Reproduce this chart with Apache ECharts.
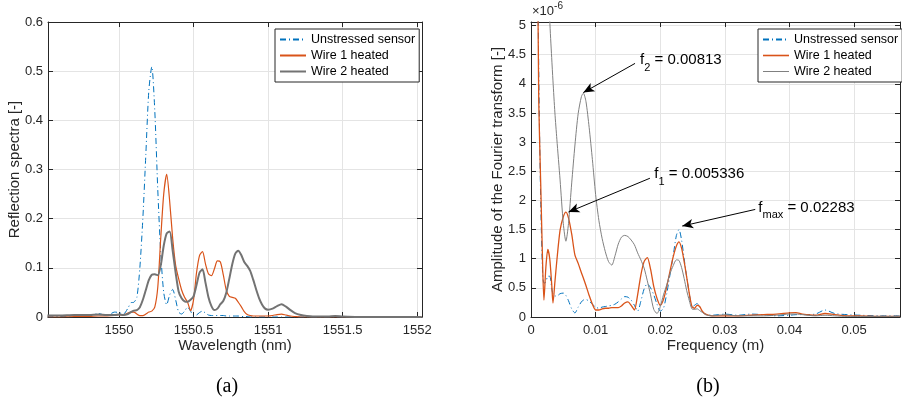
<!DOCTYPE html>
<html>
<head>
<meta charset="utf-8">
<script src="https://cdn.jsdelivr.net/npm/echarts@6/dist/echarts.min.js"></script>
<style>html,body{margin:0;padding:0;background:#fff}#c{width:902px;height:402px}</style>
</head>
<body>
<div id="c"></div>
<script>
// ---------- (a) Reflection spectra ----------
const wavelength = [1549.52,1549.60,1549.70,1549.80,1549.86,1549.92,1549.97,1550.00,1550.03,1550.06,
  1550.08,1550.10,1550.12,1550.14,1550.16,1550.18,1550.20,1550.22,1550.24,1550.26,
  1550.28,1550.30,1550.32,1550.34,1550.36,1550.38,1550.40,1550.42,1550.44,1550.46,
  1550.48,1550.50,1550.52,1550.54,1550.56,1550.58,1550.60,1550.62,1550.64,1550.66,
  1550.68,1550.70,1550.72,1550.74,1550.76,1550.78,1550.80,1550.82,1550.84,1550.86,
  1550.88,1550.90,1550.92,1550.94,1550.96,1550.98,1551.00,1551.03,1551.06,1551.09,
  1551.12,1551.15,1551.18,1551.22,1551.26,1551.30,1551.40,1551.45,1551.50,1551.60,
  1551.80,1552.03];
const reflUnstressed = [0.000,0.001,0.002,0.002,0.007,0.003,0.010,0.009,0.006,0.018,
  0.029,0.030,0.040,0.100,0.200,0.330,0.460,0.509,0.420,0.260,
  0.130,0.050,0.025,0.045,0.056,0.035,0.010,0.006,0.012,0.020,
  0.012,0.002,0.004,0.009,0.012,0.008,0.004,0.003,0.003,0.003,
  0.003,0.003,0.002,0.002,0.002,0.002,0.002,0.001,0.001,0.001,
  0,0,0,0,0,0,0,0,0,0,
  0,0,0,0,0,0,0,0,0,0,
  0,0];
const reflWire1 = [0,0,0.001,0.001,0.002,0.002,0.003,0.005,0.004,0.008,
  0.010,0.010,0.006,0.003,0.003,0.006,0.010,0.012,0.020,0.060,
  0.160,0.250,0.290,0.235,0.160,0.105,0.078,0.055,0.040,0.030,
  0.013,0.035,0.090,0.125,0.133,0.108,0.088,0.084,0.098,0.114,
  0.112,0.085,0.054,0.042,0.040,0.038,0.030,0.021,0.011,0.005,
  0.003,0.002,0.002,0.002,0.002,0.002,0.002,0.003,0.005,0.006,
  0.004,0.002,0.001,0,0,0,0,0,0,0,
  0,0];
const reflWire2 = [0.003,0.003,0.004,0.004,0.005,0.004,0.004,0.005,0.004,0.006,
  0.010,0.013,0.014,0.020,0.035,0.055,0.075,0.086,0.087,0.085,
  0.105,0.145,0.170,0.174,0.135,0.090,0.052,0.038,0.032,0.031,
  0.035,0.042,0.065,0.090,0.097,0.070,0.040,0.022,0.014,0.017,
  0.026,0.033,0.050,0.078,0.108,0.129,0.135,0.126,0.112,0.104,
  0.094,0.076,0.056,0.038,0.025,0.017,0.015,0.017,0.022,0.026,
  0.021,0.014,0.008,0.004,0.002,0.001,0.001,0.002,0.001,0,
  0,0];
const wavelengthTicks = [1550, 1550.5, 1551, 1551.5, 1552];
const reflTicks = [0, 0.1, 0.2, 0.3, 0.4, 0.5, 0.6];

// ---------- (b) Fourier amplitude (units of 1e-6) ----------
const frequency = [0.0009,0.0012,0.0015,0.0018,0.0020,0.0023,0.0026,0.0029,0.0032,0.0034,
  0.0037,0.0040,0.0045,0.0050,0.0054,0.0058,0.0063,0.0068,0.0073,0.0078,
  0.0081,0.0085,0.0090,0.0095,0.0100,0.0105,0.0110,0.0115,0.0120,0.0125,
  0.0130,0.0135,0.0140,0.0145,0.0150,0.0155,0.0160,0.0165,0.0170,0.0175,
  0.0180,0.0185,0.0190,0.0195,0.0200,0.0205,0.0210,0.0215,0.0220,0.0225,
  0.0229,0.0233,0.0237,0.0241,0.0245,0.0249,0.0253,0.0257,0.0261,0.0265,
  0.0270,0.0280,0.0290,0.0300,0.0320,0.0340,0.0360,0.0380,0.0400,0.0410,
  0.0420,0.0440,0.0455,0.0470,0.0490,0.0510,0.0540,0.0571];
const ampUnstressed = [8,4.2,2.0,0.75,0.58,0.6,0.7,0.7,0.5,0.39,
  0.36,0.36,0.40,0.41,0.37,0.28,0.14,0.07,0.17,0.26,
  0.29,0.30,0.27,0.22,0.17,0.15,0.17,0.18,0.19,0.20,
  0.22,0.26,0.31,0.35,0.34,0.29,0.20,0.10,0.27,0.48,
  0.57,0.50,0.38,0.22,0.10,0.15,0.40,0.72,1.05,1.40,
  1.50,1.32,1.00,0.68,0.40,0.17,0.20,0.23,0.18,0.10,
  0.05,0.03,0.04,0.05,0.03,0.05,0.04,0.02,0.03,0.04,
  0.04,0.05,0.12,0.06,0.04,0.03,0.02,0.02];
const ampWire1 = [8,3.7,2.3,0.9,0.29,0.85,1.16,1.0,0.57,0.24,
  0.6,0.97,1.49,1.72,1.80,1.70,1.42,1.06,0.92,0.76,
  0.67,0.54,0.37,0.22,0.12,0.12,0.14,0.15,0.15,0.16,
  0.16,0.16,0.19,0.24,0.26,0.20,0.12,0.38,0.72,0.95,
  1.02,0.82,0.52,0.32,0.20,0.30,0.52,0.78,1.03,1.22,
  1.29,1.18,0.95,0.68,0.40,0.18,0.15,0.20,0.18,0.10,
  0.05,0.02,0.02,0.02,0.02,0.03,0.04,0.05,0.07,0.075,
  0.05,0.03,0.06,0.04,0.02,0.02,0.01,0.01];
const ampWire2 = [40,30,22,16,13,9.5,6.4,5.1,4.45,4.05,
  3.5,3.05,2.35,1.6,1.3,1.6,2.3,2.95,3.49,3.78,
  3.84,3.7,3.25,2.7,2.1,1.66,1.35,1.12,0.95,0.89,
  1.05,1.25,1.37,1.40,1.38,1.32,1.24,1.10,0.98,0.84,
  0.62,0.38,0.13,0.06,0.18,0.38,0.55,0.74,0.88,0.98,
  0.97,0.85,0.66,0.45,0.28,0.14,0.13,0.14,0.11,0.08,
  0.04,0.02,0.03,0.04,0.02,0.02,0.02,0.03,0.05,0.05,
  0.04,0.02,0.03,0.02,0.01,0.01,0.01,0.01];
const frequencyTicks = [0, 0.01, 0.02, 0.03, 0.04, 0.05];
const ampTicks = [0, 0.5, 1, 1.5, 2, 2.5, 3, 3.5, 4, 4.5, 5];

const seriesNames = ['Unstressed sensor', 'Wire 1 heated', 'Wire 2 heated'];
const peakLabels = [
  { main: 'f', sub: '2', value: '0.00813' },
  { main: 'f', sub: '1', value: '0.005336' },
  { main: 'f', sub: 'max', value: '0.02283' }
];

// ---------- layout / style ----------
const FONT = '"Liberation Sans", Arial, Helvetica, sans-serif';
const AX = '#262626';
const GRIDC = '#e4e4e4';
const BLUE = '#0072BD', ORANGE = '#D95319', GRAY = '#737373', GRAY_B = '#808080';
const DASHDOT = [6, 3, 1, 3];
// annotation geometry in data units of panel (b): [tail, tip, textAnchor]
const peakArrows = [
  { tail: [0.0161, 4.35], tip: [0.0081, 3.85], text: [0.0168, 4.41] },
  { tail: [0.0184, 2.38], tip: [0.0058, 1.80], text: [0.0190, 2.45] },
  { tail: [0.0347, 1.845], tip: [0.0234, 1.56], text: [0.0351, 1.88] }
];

function zip(xs, ys) { return xs.map((x, i) => [x, ys[i]]); }
function fmt(v) { return String(Math.round(v * 1e6) / 1e6); }

function mainAxis(kind, gridIndex, min, max, ticks, name, nameGap) {
  const isX = kind === 'x';
  return {
    type: 'value', gridIndex, min, max,
    position: isX ? 'bottom' : 'left',
    name, nameLocation: 'middle', nameGap, nameMoveOverlap: false,
    nameTextStyle: { fontFamily: FONT, fontSize: 15, color: AX },
    axisLine: { show: true, onZero: false, lineStyle: { color: AX, width: 1 } },
    axisTick: { show: true, inside: true, length: 5, customValues: ticks, lineStyle: { color: AX, width: 1 } },
    axisLabel: { show: true, customValues: ticks, formatter: fmt, color: AX, fontFamily: FONT, fontSize: 13,
      margin: isX ? 7 : 5, hideOverlap: false },
    splitLine: { show: true, lineStyle: { color: GRIDC, width: 1 } },
    minorTick: { show: false }
  };
}
function boxAxis(kind, gridIndex, min, max, ticks) {
  const isX = kind === 'x';
  return {
    type: 'value', gridIndex, min, max,
    position: isX ? 'top' : 'right',
    axisLine: { show: true, onZero: false, lineStyle: { color: AX, width: 1 } },
    axisTick: { show: true, inside: true, length: 5, customValues: ticks, lineStyle: { color: AX, width: 1 } },
    axisLabel: { show: false },
    splitLine: { show: false }
  };
}

function lineSeries(name, xi, yi, data, color, width, dashed) {
  return {
    name, type: 'line', xAxisIndex: xi, yAxisIndex: yi, data,
    showSymbol: false, symbol: 'none', smooth: 0.25, clip: true,
    lineStyle: { color, width, type: dashed ? DASHDOT : 'solid' },
    itemStyle: { color }, emphasis: { disabled: true }, animation: false
  };
}

const richLabel = {
  m: { fontFamily: FONT, fontSize: 15, lineHeight: 15, color: '#000' },
  s: { fontFamily: FONT, fontSize: 11, lineHeight: 11, padding: [16, 0, 0, 0], color: '#000' }
};

const annotSeries = {
  name: 'annotations', type: 'line', xAxisIndex: 2, yAxisIndex: 2, data: [],
  silent: true, animation: false,
  markLine: {
    silent: true, animation: false, symbolSize: [7, 11],
    lineStyle: { color: '#000', width: 1, type: 'solid' },
    label: { show: false },
    emphasis: { disabled: true },
    data: peakArrows.map(a => [
      { coord: a.tail, symbol: 'none' },
      { coord: a.tip, symbol: 'arrow' }
    ])
  },
  markPoint: {
    silent: true, animation: false,
    symbol: 'rect', symbolSize: 1, itemStyle: { color: 'rgba(0,0,0,0)' },
    data: peakArrows.map((a, i) => ({
      coord: a.text,
      label: {
        show: true, position: 'right', distance: 0,
        formatter: '{m|' + peakLabels[i].main + '}{s|' + peakLabels[i].sub + '}{m| = ' + peakLabels[i].value + '}',
        rich: richLabel
      }
    }))
  }
};

const legendBase = {
  orient: 'vertical', top: 29, padding: [4, 4, 4, 4], itemWidth: 26, itemHeight: 12, itemGap: 3,
  backgroundColor: '#fff', borderColor: AX, borderWidth: 1, borderRadius: 0, selectedMode: false,
  itemStyle: { opacity: 0 },
  textStyle: { fontFamily: FONT, fontSize: 12.5, color: '#000' }
};
const rightLegendLines = [
  null,
  { color: ORANGE, width: 1.6, type: 'solid' },
  { color: GRAY_B, width: 1, type: 'solid' }
];

const option = {
  backgroundColor: '#fff',
  animation: false,
  grid: [
    { left: 48, top: 22, width: 374, height: 295, outerBoundsMode: 'none', containLabel: false },
    { left: 531, top: 22, width: 369, height: 295, outerBoundsMode: 'none', containLabel: false }
  ],
  xAxis: [
    mainAxis('x', 0, 1549.524, 1552.032, wavelengthTicks, 'Wavelength (nm)', 21),
    boxAxis('x', 0, 1549.524, 1552.032, wavelengthTicks),
    mainAxis('x', 1, 0, 0.0571, frequencyTicks, 'Frequency (m)', 21),
    boxAxis('x', 1, 0, 0.0571, frequencyTicks)
  ],
  yAxis: [
    mainAxis('y', 0, 0, 0.6, reflTicks, 'Reflection spectra [-]', 26),
    boxAxis('y', 0, 0, 0.6, reflTicks),
    mainAxis('y', 1, 0, 5.06, ampTicks, 'Amplitude of the Fourier transform [-]', 26),
    boxAxis('y', 1, 0, 5.06, ampTicks)
  ],
  legend: [
    Object.assign({}, legendBase, { left: 275, data: seriesNames.map(n => ({ name: n })) }),
    Object.assign({}, legendBase, { left: 758, data: seriesNames.map((n, i) =>
      rightLegendLines[i] ? { name: n, lineStyle: rightLegendLines[i] } : { name: n }) })
  ],
  series: [
    lineSeries(seriesNames[0], 0, 0, zip(wavelength, reflUnstressed), BLUE, 1, true),
    lineSeries(seriesNames[1], 0, 0, zip(wavelength, reflWire1), ORANGE, 1.2, false),
    lineSeries(seriesNames[2], 0, 0, zip(wavelength, reflWire2), GRAY, 2, false),
    lineSeries(seriesNames[0], 2, 2, zip(frequency, ampUnstressed), BLUE, 1, true),
    lineSeries(seriesNames[1], 2, 2, zip(frequency, ampWire1), ORANGE, 1.3, false),
    lineSeries(seriesNames[2], 2, 2, zip(frequency, ampWire2), GRAY_B, 1, false),
    annotSeries
  ],
  graphic: [
    { type: 'text', x: 227, y: 387, silent: true,
      style: { text: '(a)', font: '20px "Liberation Serif", "Times New Roman", serif', align: 'center', verticalAlign: 'middle', fill: '#000' } },
    { type: 'text', x: 708, y: 387, silent: true,
      style: { text: '(b)', font: '20px "Liberation Serif", "Times New Roman", serif', align: 'center', verticalAlign: 'middle', fill: '#000' } },
    { type: 'text', x: 532, y: 5, silent: true,
      style: { text: '{a|×10}{b|-6}', verticalAlign: 'top', align: 'left',
        rich: {
          a: { fontFamily: FONT, fontSize: 13, lineHeight: 13, fill: AX },
          b: { fontFamily: FONT, fontSize: 10, lineHeight: 10, padding: [0, 0, 10, 0], fill: AX }
        } } }
  ]
};

const chart = echarts.init(document.getElementById('c'), null, { renderer: 'canvas' });
chart.setOption(option);
</script>
</body>
</html>
